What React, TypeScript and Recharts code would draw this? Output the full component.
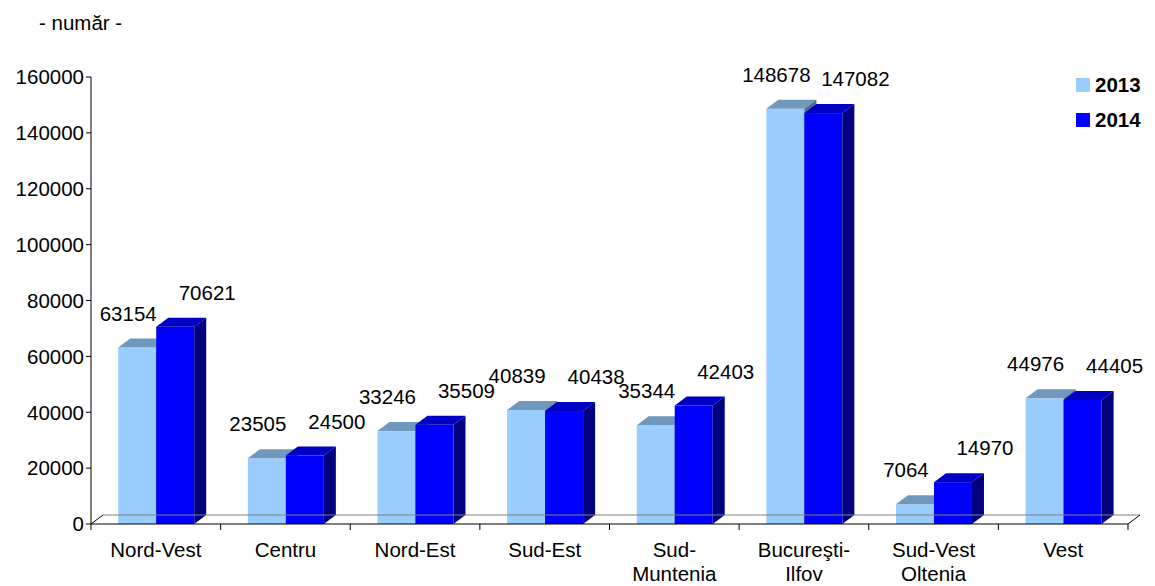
import React from 'react';
import { BarChart, Bar, XAxis, YAxis, ReferenceLine, LabelList } from 'recharts';

const categories = ['Nord-Vest', 'Centru', 'Nord-Est', 'Sud-Est', 'Sud-Muntenia', 'Bucureşti-Ilfov', 'Sud-Vest Oltenia', 'Vest'];
const categoryLines = [['Nord-Vest'], ['Centru'], ['Nord-Est'], ['Sud-Est'], ['Sud-', 'Muntenia'], ['Bucureşti-', 'Ilfov'], ['Sud-Vest', 'Oltenia'], ['Vest']];
const values2013 = [63154, 23505, 33246, 40839, 35344, 148678, 7064, 44976];
const values2014 = [70621, 24500, 35509, 40438, 42403, 147082, 14970, 44405];
const yTicks = [0, 20000, 40000, 60000, 80000, 100000, 120000, 140000, 160000];
const seriesNames = ['2013', '2014'];

const data = categories.map((c, i) => ({ name: c, v2013: values2013[i], v2014: values2014[i] }));

const FONT = '"Liberation Sans", Arial, sans-serif';
const FS = 20.5;
const DX = 12;
const DY = 9;

const COLORS = {
  v2013: { front: '#99CCFF', top: '#7097BC', side: '#4F6F8F' },
  v2014: { front: '#0000FF', top: '#0000C4', side: '#000080' },
};

const make3DBar = (c: { front: string; top: string; side: string }) => (props: any) => {
  const { x, y, width, height } = props;
  if (width == null || height == null) return null;
  const w = width;
  const h = height;
  return (
    <g>
      <rect x={x} y={y} width={w} height={h} fill={c.front} />
      <polygon points={`${x},${y} ${x + DX},${y - DY} ${x + w + DX},${y - DY} ${x + w},${y}`} fill={c.top} />
      <polygon points={`${x + w},${y} ${x + w + DX},${y - DY} ${x + w + DX},${y + h - DY} ${x + w},${y + h}`} fill={c.side} />
    </g>
  );
};

const makeLabel = (dx: number, dy: number) => (props: any) => {
  const { x, y, width, value } = props;
  return (
    <text x={x + width / 2 + dx} y={y + dy} textAnchor="middle" fontSize={FS} fontFamily={FONT} fill="#000">
      {value}
    </text>
  );
};

const Floor = (props: any) => {
  const { x1, y1, x2 } = props;
  const n = categories.length;
  const step = (x2 - x1) / n;
  const ticks = [];
  for (let i = 0; i <= n; i++) {
    const tx = x1 + i * step;
    ticks.push(<line key={i} x1={tx} y1={y1} x2={tx} y2={y1 + 6} stroke="#000" strokeWidth={1} />);
  }
  return (
    <g>
      <line x1={x1 + DX} y1={y1 - DY} x2={x2 + DX} y2={y1 - DY} stroke="#808080" strokeWidth={1} />
      <line x1={x1} y1={y1} x2={x1 + DX} y2={y1 - DY} stroke="#000" strokeWidth={1} />
      <line x1={x2} y1={y1} x2={x2 + DX} y2={y1 - DY} stroke="#000" strokeWidth={1} />
      {ticks}
    </g>
  );
};

const CategoryTick = (props: any) => {
  const { x, y, payload } = props;
  const lines = categoryLines[payload.index] || [payload.value];
  return (
    <text x={x} y={y + 25} textAnchor="middle" fontSize={FS} fontFamily={FONT} fill="#000">
      {lines.map((l, i) => (
        <tspan key={i} x={x} dy={i === 0 ? 0 : 24}>{l}</tspan>
      ))}
    </text>
  );
};

export default function App() {
  return (
    <div style={{ position: 'absolute', left: 0, top: 0, width: 1155, height: 586, background: '#fff', fontFamily: FONT, overflow: 'hidden' }}>
      <div style={{ position: 'absolute', left: 39, top: 11, fontSize: FS, color: '#000', lineHeight: '24px' }}>- număr -</div>
      <div style={{ position: 'absolute', left: 1076, top: 67, fontSize: FS, fontWeight: 'bold', color: '#000' }}>
        {seriesNames.map((s, i) => (
          <div key={s} style={{ display: 'flex', alignItems: 'center', height: 35 }}>
            <span style={{ display: 'inline-block', width: 14, height: 14, background: i === 0 ? COLORS.v2013.front : COLORS.v2014.front, marginRight: 5 }} />
            <span>{s}</span>
          </div>
        ))}
      </div>
      <BarChart
        width={1155}
        height={586}
        data={data}
        margin={{ top: 77, right: 27, bottom: 0, left: 0 }}
        barCategoryGap="21%"
        barGap={0}
      >
        <YAxis
          width={91}
          domain={[0, 160000]}
          ticks={yTicks}
          interval={0}
          tick={{ fontSize: FS, fill: '#000', fontFamily: FONT }}
          tickLine={{ stroke: '#000' }}
          tickSize={5}
          axisLine={{ stroke: '#000' }}
        />
        <XAxis
          dataKey="name"
          interval={0}
          tick={<CategoryTick />}
          tickLine={false}
          axisLine={{ stroke: '#000' }}
          height={62}
        />
        <ReferenceLine y={0} shape={(p: any) => <Floor {...p} />} ifOverflow="visible" />
        <Bar dataKey="v2013" name="2013" fill={COLORS.v2013.front} shape={make3DBar(COLORS.v2013)} isAnimationActive={false}>
          <LabelList dataKey="v2013" content={makeLabel(-9, -27)} />
        </Bar>
        <Bar dataKey="v2014" name="2014" fill={COLORS.v2014.front} shape={make3DBar(COLORS.v2014)} isAnimationActive={false}>
          <LabelList dataKey="v2014" content={makeLabel(32, -27)} />
        </Bar>
      </BarChart>
    </div>
  );
}
